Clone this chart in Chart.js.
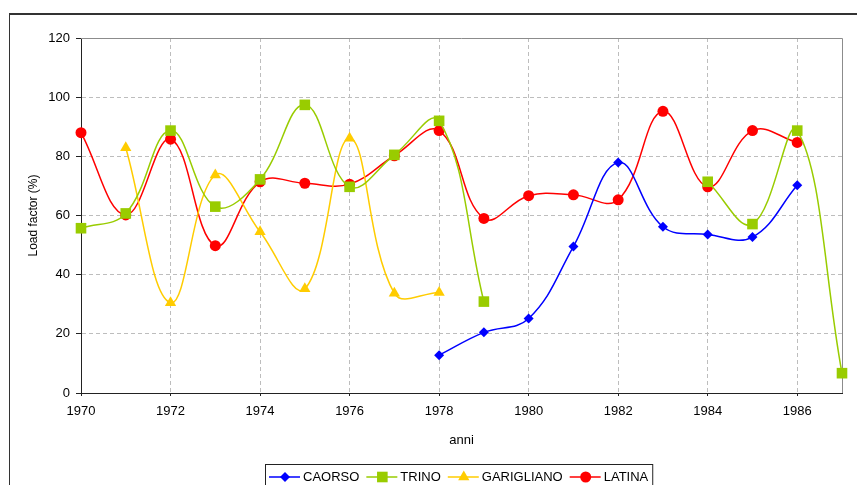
<!DOCTYPE html>
<html>
<head>
<meta charset="utf-8">
<script src="https://cdn.jsdelivr.net/npm/chart.js@4"></script>
<style>
    html, body { margin: 0; padding: 0; background: #fff; }
    #wrap { width: 857px; height: 485px; }
</style>
</head>
<body>
<div id="wrap"><canvas id="chart" width="857" height="485"></canvas></div>
<script>
"use strict";

// Years on the x axis and the even-year tick labels
const years = [1970, 1971, 1972, 1973, 1974, 1975, 1976, 1977, 1978,
               1979, 1980, 1981, 1982, 1983, 1984, 1985, 1986, 1987];
const xTicks = [1970, 1972, 1974, 1976, 1978, 1980, 1982, 1984, 1986];
const yTicks = [0, 20, 40, 60, 80, 100, 120];

// Load factor (%) per plant, null where the plant has no value
const caorso = [null, null, null, null, null, null, null, null, 12.8,
                20.5, 25.2, 49.5, 77.9, 56.2, 53.6, 52.7, 70.2, null];
const trino = [55.7, 60.7, 88.7, 63, 72.2, 97.4, 69.7, 80.5, 92,
               30.9, null, null, null, null, 71.4, 57.1, 88.7, 6.7];
const garigliano = [null, 82.9, 30.5, 73.7, 54.5, 35.2, 86.1, 33.7, 34,
                    null, null, null, null, null, null, null, null, null];
const latina = [88, 60.2, 85.8, 49.8, 71.4, 70.9, 70.6, 80.2, 88.7,
                59, 66.7, 67, 65.3, 95.2, 69.7, 88.7, 84.7, null];

const FONT = "'Liberation Sans', Arial, sans-serif";

function series(label, data, color, style, radius) {
    return {
        label: label,
        data: data,
        borderColor: color,
        backgroundColor: color,
        borderWidth: 1.5,
        tension: 0.4,
        pointStyle: style,
        pointRadius: radius,
        pointHoverRadius: radius,
        pointBorderWidth: 0,
        spanGaps: false,
        clip: false,
    };
}

// Outer frame, plot frame and the legend box (drawn by hand, Excel-style)
const framePlugin = {
    id: "frame",
    beforeDraw(chart) {
        const ctx = chart.ctx;
        ctx.save();
        ctx.strokeStyle = "#333";
        ctx.lineWidth = 1;
        ctx.beginPath();
        ctx.moveTo(9.5, 600);
        ctx.lineTo(9.5, 14.5);
        ctx.stroke();
        ctx.lineWidth = 2;
        ctx.beginPath();
        ctx.moveTo(9, 14);
        ctx.lineTo(900, 14);
        ctx.stroke();
        ctx.restore();
    },
    beforeDatasetsDraw(chart) {
        const { ctx, chartArea } = chart;
        ctx.save();
        ctx.strokeStyle = "#8c8c8c";
        ctx.lineWidth = 1;
        ctx.beginPath();
        ctx.moveTo(chartArea.left, chartArea.top + 0.5);
        ctx.lineTo(chartArea.right + 0.5, chartArea.top + 0.5);
        ctx.lineTo(chartArea.right + 0.5, chartArea.bottom);
        ctx.stroke();
        ctx.restore();
    },
    afterDraw(chart) {
        const ctx = chart.ctx;
        const y = 477;
        let x = 269;
        ctx.save();
        ctx.font = "13px " + FONT;
        ctx.textBaseline = "middle";
        ctx.textAlign = "left";
        chart.data.datasets.forEach((ds) => {
            ctx.strokeStyle = ds.borderColor;
            ctx.lineWidth = 1.5;
            ctx.beginPath();
            ctx.moveTo(x, y);
            ctx.lineTo(x + 31, y);
            ctx.stroke();
            ctx.fillStyle = ds.backgroundColor;
            Chart.helpers.drawPoint(ctx, {
                pointStyle: ds.pointStyle,
                radius: ds.pointRadius,
                borderWidth: 0,
                rotation: 0,
            }, x + 16, y);
            ctx.fillStyle = "#000";
            ctx.fillText(ds.label, x + 34, y);
            x += 34 + ctx.measureText(ds.label).width + 7;
        });
        ctx.strokeStyle = "#222";
        ctx.lineWidth = 1;
        ctx.strokeRect(265.5, 464.5, x - 265 - 3, 40);
        ctx.restore();
    },
};

const chart = new Chart(document.getElementById("chart"), {
    type: "line",
    data: {
        labels: years,
        datasets: [
            series("CAORSO", caorso, "#0000ff", "rectRot", 5),
            series("TRINO", trino, "#99cc00", "rect", 7.5),
            series("GARIGLIANO", garigliano, "#ffcc00", "triangle", 6.5),
            series("LATINA", latina, "#ff0000", "circle", 5.5),
        ],
    },
    options: {
        responsive: false,
        animation: false,
        layout: {
            padding: { left: 0, top: 38, right: 15, bottom: 0 },
        },
        plugins: {
            legend: { display: false },
            tooltip: { enabled: false },
        },
        scales: {
            x: {
                type: "linear",
                min: 1970,
                max: 1987,
                afterBuildTicks: (scale) => {
                    scale.ticks = xTicks.map((v) => ({ value: v }));
                },
                afterFit: (scale) => {
                    scale.height = 92;
                },
                ticks: {
                    color: "#000",
                    font: { family: FONT, size: 13 },
                    padding: 8,
                    maxRotation: 0,
                    callback: (v) => String(v),
                },
                grid: {
                    color: (c) => (c.tick && c.tick.value === 1970 ? "rgba(0,0,0,0)" : "#bdbdbd"),
                    tickColor: "#222",
                    tickLength: 3,
                    lineWidth: 1,
                },
                border: { display: true, color: "#222", width: 1, dash: [4, 3] },
                title: {
                    display: true,
                    text: "anni",
                    color: "#000",
                    font: { family: FONT, size: 13 },
                    padding: { top: 0, bottom: 37 },
                },
            },
            y: {
                min: 0,
                max: 120,
                afterBuildTicks: (scale) => {
                    scale.ticks = yTicks.map((v) => ({ value: v }));
                },
                afterFit: (scale) => {
                    scale.width = 81;
                },
                ticks: {
                    color: "#000",
                    font: { family: FONT, size: 13 },
                    padding: 6,
                },
                grid: {
                    color: (c) => (c.tick && (c.tick.value === 0 || c.tick.value === 120) ? "rgba(0,0,0,0)" : "#bdbdbd"),
                    tickColor: "#222",
                    tickLength: 5,
                    lineWidth: 1,
                },
                border: { display: true, color: "#222", width: 1, dash: [4, 3] },
                title: {
                    display: true,
                    text: "Load factor (%)",
                    color: "#000",
                    font: { family: FONT, size: 12 },
                    padding: { top: 26, bottom: 0 },
                },
            },
        },
    },
    plugins: [framePlugin],
});
</script>
</body>
</html>
